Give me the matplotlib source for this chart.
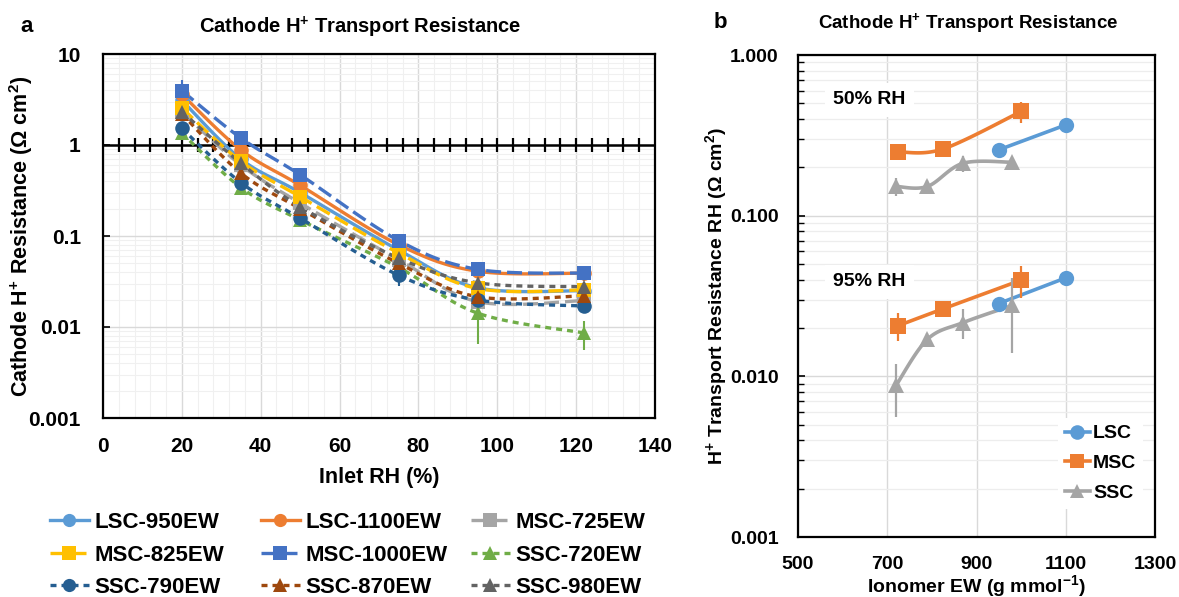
import numpy as np
import matplotlib
matplotlib.use("Agg")
import matplotlib.pyplot as plt
from matplotlib.lines import Line2D

plt.rcParams['font.family'] = ['Liberation Sans', 'DejaVu Sans']
plt.rcParams['font.weight'] = 'bold'
plt.rcParams['axes.labelweight'] = 'bold'
plt.rcParams['mathtext.fontset'] = 'custom'
plt.rcParams['mathtext.rm'] = 'Liberation Sans:bold'
plt.rcParams['mathtext.bf'] = 'Liberation Sans:bold'
plt.rcParams['mathtext.it'] = 'Liberation Sans:bold:italic'

# ---------------- Panel a data: resistance vs inlet RH ----------------
inlet_rh = [20, 35, 50, 75, 95, 122]

lsc_950 = [3.1, 0.70, 0.30, 0.070, 0.027, 0.025]
lsc_1100 = [3.6, 0.88, 0.36, 0.080, 0.041, 0.039]
msc_725 = [2.3, 0.60, 0.23, 0.055, 0.019, 0.0195]
msc_825 = [2.55, 0.66, 0.27, 0.065, 0.0265, 0.0255]
msc_1000 = [3.95, 1.19, 0.47, 0.089, 0.043, 0.039]
ssc_720 = [1.35, 0.34, 0.15, 0.045, 0.0142, 0.0086]
ssc_790 = [1.52, 0.385, 0.157, 0.037, 0.0198, 0.017]
ssc_870 = [2.2, 0.49, 0.20, 0.050, 0.0215, 0.022]
ssc_980 = [2.32, 0.63, 0.21, 0.057, 0.0306, 0.0277]

err_lsc_950 = [0.3, 0.05, 0.02, 0.004, 0.002, 0.002]
err_lsc_1100 = [0.4, 0.08, 0.03, 0.005, 0.002, 0.002]
err_msc_725 = [0.3, 0.05, 0.02, 0.004, 0.002, 0.002]
err_msc_825 = [0.3, 0.05, 0.02, 0.005, 0.002, 0.002]
err_msc_1000 = [1.25, 0.22, 0.05, 0.008, 0.004, 0.007]
err_ssc_720 = [0.15, 0.03, 0.01, 0.016, 0.0077, 0.003]
err_ssc_790 = [0.15, 0.03, 0.01, 0.009, 0.003, 0.002]
err_ssc_870 = [0.2, 0.04, 0.015, 0.005, 0.003, 0.002]
err_ssc_980 = [0.2, 0.05, 0.015, 0.005, 0.002, 0.003]

names_a = ['LSC-950EW', 'LSC-1100EW', 'MSC-725EW', 'MSC-825EW', 'MSC-1000EW',
           'SSC-720EW', 'SSC-790EW', 'SSC-870EW', 'SSC-980EW']
values_a = [lsc_950, lsc_1100, msc_725, msc_825, msc_1000,
            ssc_720, ssc_790, ssc_870, ssc_980]
errors_a = [err_lsc_950, err_lsc_1100, err_msc_725, err_msc_825, err_msc_1000,
            err_ssc_720, err_ssc_790, err_ssc_870, err_ssc_980]
colors_a = ['#5B9BD5', '#ED7D31', '#A5A5A5', '#FFC000', '#4472C4',
            '#70AD47', '#255E91', '#9E480E', '#636363']
markers_a = ['o', 'o', 's', 's', 's', '^', 'o', '^', '^']
LONG = (0, (4.5, 1.8))
SHORT = (0, (1.8, 1.5))
styles_a = ['-', '-', LONG, LONG, LONG, SHORT, SHORT, SHORT, SHORT]

# ---------------- Panel b data: resistance vs ionomer EW ----------------
lsc_ew = [950, 1100]
msc_ew = [725, 825, 1000]
ssc_ew = [720, 790, 870, 980]

lsc_rh50 = [0.257, 0.367]
msc_rh50 = [0.249, 0.260, 0.445]
ssc_rh50 = [0.152, 0.152, 0.212, 0.215]
lsc_rh95 = [0.0284, 0.0410]
msc_rh95 = [0.0207, 0.0263, 0.0397]
ssc_rh95 = [0.0088, 0.0170, 0.0216, 0.0276]

err_lsc_rh50 = [0.0, 0.0]
err_msc_rh50 = [0.025, 0.012, 0.067]
err_ssc_rh50 = [0.02, 0.015, 0.024, 0.0]
err_lsc_rh95 = [0.002, 0.0]
err_msc_rh95 = [0.0042, 0.001, 0.009]
err_ssc_rh95 = [0.0032, 0.0015, 0.0045, 0.0136]


def smooth(x, y, n=24):
    """Bezier smoothing of a polyline in (x, log10 y) space."""
    x = np.asarray(x, float)
    ly = np.log10(np.asarray(y, float))
    if len(x) < 3:
        return x, 10 ** ly
    px = np.concatenate([[x[0]], x, [x[-1]]])
    py = np.concatenate([[ly[0]], ly, [ly[-1]]])
    xs, ys = [], []
    t = np.linspace(0, 1, n)
    for i in range(1, len(px) - 2):
        p0 = np.array([px[i], py[i]])
        p3 = np.array([px[i + 1], py[i + 1]])
        c1 = p0 + (np.array([px[i + 1], py[i + 1]]) - np.array([px[i - 1], py[i - 1]])) / 6
        c2 = p3 - (np.array([px[i + 2], py[i + 2]]) - np.array([px[i], py[i]])) / 6
        b = ((1 - t) ** 3)[:, None] * p0 + (3 * (1 - t) ** 2 * t)[:, None] * c1 \
            + (3 * (1 - t) * t ** 2)[:, None] * c2 + (t ** 3)[:, None] * p3
        xs.append(b[:, 0])
        ys.append(b[:, 1])
    return np.concatenate(xs), 10 ** np.concatenate(ys)


fig = plt.figure(figsize=(11.79, 5.97), dpi=100)
W, H = 1179, 597


def frac(x0, y0, x1, y1):
    return [x0 / W, 1 - y1 / H, (x1 - x0) / W, (y1 - y0) / H]


# ======================= Panel a =======================
axa = fig.add_axes(frac(103, 54, 655, 418))
axa.set_yscale('log')
axa.set_xlim(0, 140)
axa.set_ylim(0.001, 10)
axa.set_xticks(np.arange(0, 141, 20))
axa.set_xticks(np.arange(0, 141, 4), minor=True)
axa.set_yticks([0.001, 0.01, 0.1, 1, 10])
axa.set_yticklabels(['0.001', '0.01', '0.1', '1', '10'])
axa.grid(True, which='major', color='#D9D9D9', lw=1.0)
axa.grid(True, which='minor', color='#F0F0F0', lw=0.8)
axa.set_axisbelow(True)
axa.tick_params(axis='x', which='both', length=0, pad=14, labelsize=15)
axa.tick_params(axis='y', which='major', direction='in', length=5, width=1.2,
                pad=16, labelsize=15)
axa.tick_params(axis='y', which='minor', length=0)
for s in axa.spines.values():
    s.set_linewidth(1.6)
axa.set_xlabel('Inlet RH (%)', fontsize=15.5, fontweight='bold')
axa.xaxis.set_label_coords(0.5, (418 - 477) / 364)
axa.xaxis.label.set_va('center')
axa.set_ylabel('Cathode H$^{+}$ Resistance (Ω cm$^{2}$)', fontsize=15.5, fontweight='bold')
axa.yaxis.set_label_coords((21 - 103) / 552, 0.5)
axa.yaxis.label.set_va('center')

# horizontal axis crossing at 1 with tick marks
axa.axhline(1, color='black', lw=1.8, zorder=2)
cross_ticks = np.arange(4, 140, 4)
axa.plot(cross_ticks, np.ones_like(cross_ticks, dtype=float), ls='none', marker='|',
         ms=10, mew=1.6, color='black', zorder=2)

handles_a = []
for name, vals, errs, col, mk, ls in zip(names_a, values_a, errors_a, colors_a,
                                         markers_a, styles_a):
    sx, sy = smooth(inlet_rh, vals)
    axa.plot(sx, sy, color=col, lw=2.4, ls=ls, zorder=3)
    axa.errorbar(inlet_rh, vals, yerr=errs, fmt=mk, color=col, ms=10.5, mew=0,
                 elinewidth=1.5, capsize=3, capthick=1.5, zorder=4)
    handles_a.append(Line2D([], [], color=col, lw=2.4, ls=ls, marker=mk, ms=9.5, mew=0))

fig.text(27 / W, 1 - 27 / H, 'a', fontsize=16, fontweight='bold', ha='center', va='center')
fig.text(360 / W, 1 - 27 / H, 'Cathode H$^{+}$ Transport Resistance', fontsize=14.5,
         fontweight='bold', ha='center', va='center')

# legend in three columns with equal pitch
col_x = [50, 261, 471]
for c in range(3):
    idx = [c, c + 3, c + 6]
    fig.legend([handles_a[i] for i in idx], [names_a[i] for i in idx],
               loc='upper left', bbox_to_anchor=(col_x[c] / W, 1 - 512 / H),
               frameon=False, fontsize=16, handlelength=1.75, handletextpad=0.25,
               labelspacing=0.52, borderpad=0, borderaxespad=0)

# ======================= Panel b =======================
axb = fig.add_axes(frac(798, 55, 1155, 537))
axb.set_yscale('log')
axb.set_xlim(500, 1300)
axb.set_ylim(0.001, 1.0)
axb.set_xticks(np.arange(500, 1301, 200))
axb.set_yticks([0.001, 0.01, 0.1, 1.0])
axb.set_yticklabels(['0.001', '0.010', '0.100', '1.000'])
axb.grid(True, which='major', axis='x', color='#D9D9D9', lw=1.0)
axb.grid(True, which='major', axis='y', color='#D9D9D9', lw=1.0)
axb.grid(True, which='minor', axis='y', color='#EDEDED', lw=0.9)
axb.set_axisbelow(True)
axb.tick_params(axis='x', length=0, pad=14, labelsize=14)
axb.tick_params(axis='y', which='major', direction='in', length=5, width=1.2,
                pad=14, labelsize=14)
axb.tick_params(axis='y', which='minor', direction='in', length=4, width=1.0,
                labelleft=False)
for s in axb.spines.values():
    s.set_linewidth(1.6)
axb.set_xlabel('Ionomer EW (g mmol$^{-1}$)', fontsize=14, fontweight='bold')
axb.xaxis.set_label_coords(0.5, (537 - 586) / 482)
axb.xaxis.label.set_va('center')
axb.set_ylabel('H$^{+}$ Transport Resistance RH (Ω cm$^{2}$)', fontsize=14, fontweight='bold')
axb.yaxis.set_label_coords((716 - 798) / 357, 0.5)
axb.yaxis.label.set_va('center')

series_b = [
    ('LSC', '#5B9BD5', 'o', lsc_ew, [lsc_rh50, lsc_rh95], [err_lsc_rh50, err_lsc_rh95]),
    ('MSC', '#ED7D31', 's', msc_ew, [msc_rh50, msc_rh95], [err_msc_rh50, err_msc_rh95]),
    ('SSC', '#A5A5A5', '^', ssc_ew, [ssc_rh50, ssc_rh95], [err_ssc_rh50, err_ssc_rh95]),
]
handles_b = []
for name, col, mk, ew, vals_list, errs_list in series_b:
    for vals, errs in zip(vals_list, errs_list):
        sx, sy = smooth(ew, vals)
        axb.plot(sx, sy, color=col, lw=2.6, zorder=3)
        axb.errorbar(ew, vals, yerr=errs, fmt=mk, color=col, ms=11, mew=0,
                     elinewidth=1.6, capsize=3, capthick=1.6, zorder=4)
    handles_b.append(Line2D([], [], color=col, lw=2.6, marker=mk, ms=10.5, mew=0))

axb.legend(handles_b, ['LSC', 'MSC', 'SSC'], loc='upper left',
           bbox_to_anchor=((1058 - 798) / 357, (537 - 418) / 482),
           fontsize=14, frameon=True, facecolor='white', edgecolor='none',
           framealpha=1, fancybox=False, handlelength=1.3, handletextpad=0.15,
           labelspacing=0.62, borderpad=0.35, borderaxespad=0)

box = dict(facecolor='white', edgecolor='none', pad=6)
axb.text((833 - 798) / 357, (537 - 100) / 482, '50% RH', transform=axb.transAxes,
         fontsize=14, ha='left', va='center', bbox=box, zorder=2)
axb.text((833 - 798) / 357, (537 - 282) / 482, '95% RH', transform=axb.transAxes,
         fontsize=14, ha='left', va='center', bbox=box, zorder=2)

fig.text(720 / W, 1 - 23 / H, 'b', fontsize=16, fontweight='bold', ha='center', va='center')
fig.text(968 / W, 1 - 23 / H, 'Cathode H$^{+}$ Transport Resistance', fontsize=13.5,
         fontweight='bold', ha='center', va='center')

fig.savefig('out.png', dpi=100, facecolor='white')
